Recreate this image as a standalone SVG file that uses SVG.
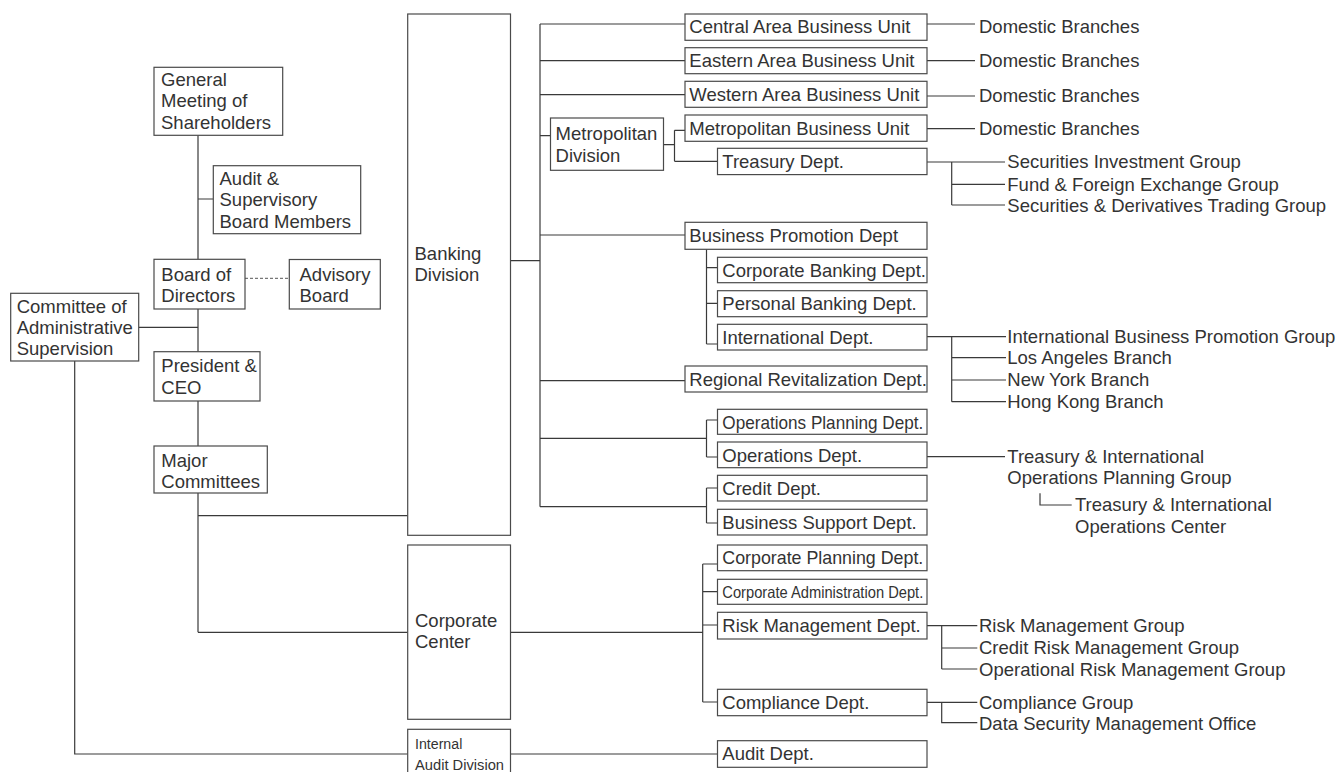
<svg xmlns="http://www.w3.org/2000/svg" width="1340" height="772" viewBox="0 0 1340 772">
<style>
.box{fill:#fff;stroke:#4a4a4a;stroke-width:1.2}
.t{font-family:"Liberation Sans",Arial,Helvetica,sans-serif;font-size:18.5px;fill:#333}
.s{font-size:15.5px}
.ln{fill:none;stroke:#3a3a3a;stroke-width:1.2}
.dash{fill:none;stroke:#777;stroke-width:1.2;stroke-dasharray:3 2}
</style>
<rect width="1340" height="772" fill="#fff"/>
<g id="connectors">
<path class="ln" d="M198 135.3V259.3M198 309V351.7M198 401V446M198 493V632.3M198 199H213.3M138.7 327.3H198M198 515.7H407.7M198 632.3H407.7M74.7 361V754H407.7"/>
<path class="dash" d="M245 278.3H289.3"/>
<path class="ln" d="M510.5 260.7H540M540 24V506.7M540 24H685M540 60.7H685M540 94.7H685M540 135.7H550.5M540 235H685M540 380.7H685M540 438.3H706.5M540 506.7H706.5"/>
<path class="ln" d="M663.4 144.7H674.5M674.5 130.3V161.3M674.5 130.3H685M674.5 161.3H717.5"/>
<path class="ln" d="M706.5 249.3V344M706.5 267.7H717.5M706.5 303.3H717.5M706.5 344H717.5"/>
<path class="ln" d="M706.5 420V457M706.5 420H717.5M706.5 457H717.5M706.5 488V523M706.5 488H717.5M706.5 523H717.5"/>
<path class="ln" d="M510.5 632.3H702.7M702.7 564V702M702.7 564H717.5M702.7 591.7H717.5M702.7 625H717.5M702.7 702H717.5M510.5 754H717.5"/>
<path class="ln" d="M927 24H975M927 60.7H975M927 96H975M927 128.7H975"/>
<path class="ln" d="M927 162H1005M951.7 162V205M951.7 184.3H1005M951.7 205H1005"/>
<path class="ln" d="M927 336.7H1006M951.7 336.7V401.7M951.7 357.7H1006M951.7 380H1006M951.7 401.7H1006"/>
<path class="ln" d="M927 456.7H1005M1040 493.3V505H1071.7"/>
<path class="ln" d="M927 625.7H977.3M941.7 625.7V669M941.7 648H977.3M941.7 669H977.3M927 702.3H977.3M941.7 702.3V722.7H977.3"/>
</g>
<g id="general-meeting"><rect class="box" x="154" y="67.3" width="128.7" height="68"/><text class="t" x="161" y="86">General</text><text class="t" x="161" y="107.3">Meeting of</text><text class="t" x="161" y="128.6">Shareholders</text></g>
<g id="audit-supervisory"><rect class="box" x="213.3" y="165.7" width="147.4" height="68"/><text class="t" x="219.5" y="185">Audit &amp;</text><text class="t" x="219.5" y="206.3">Supervisory</text><text class="t" x="219.5" y="227.6">Board Members</text></g>
<g id="board"><rect class="box" x="154" y="259.3" width="91" height="49.7"/><text class="t" x="161.3" y="281">Board of</text><text class="t" x="161.3" y="302">Directors</text></g>
<g id="advisory"><rect class="box" x="289.3" y="259.5" width="91" height="49.5"/><text class="t" x="299.5" y="281">Advisory</text><text class="t" x="299.5" y="302">Board</text></g>
<g id="committee"><rect class="box" x="10.7" y="293.3" width="128" height="67.7"/><text class="t" x="16.7" y="312.5">Committee of</text><text class="t" x="16.7" y="333.5">Administrative</text><text class="t" x="16.7" y="354.5">Supervision</text></g>
<g id="president"><rect class="box" x="154" y="351.7" width="106" height="49.3"/><text class="t" x="161.3" y="372.3">President &amp;</text><text class="t" x="161.3" y="393.5">CEO</text></g>
<g id="major"><rect class="box" x="154" y="446" width="113.3" height="47"/><text class="t" x="161.3" y="467">Major</text><text class="t" x="161.3" y="488">Committees</text></g>
<g id="banking"><rect class="box" x="407.7" y="14" width="102.8" height="521.3"/><text class="t" x="414.5" y="259.5">Banking</text><text class="t" x="414.5" y="281">Division</text></g>
<g id="corporate-center"><rect class="box" x="407.7" y="545" width="102.8" height="174.3"/><text class="t" x="415" y="627">Corporate</text><text class="t" x="415" y="648">Center</text></g>
<g id="internal-audit"><rect class="box" x="407.7" y="729.3" width="102.8" height="60"/><text class="t s" x="415" y="749.3" textLength="47.3" lengthAdjust="spacingAndGlyphs">Internal</text><text class="t s" x="415" y="770" textLength="89" lengthAdjust="spacingAndGlyphs">Audit Division</text></g>
<g id="metro-div"><rect class="box" x="550.5" y="118" width="113" height="52.3"/><text class="t" x="555.6" y="140">Metropolitan</text><text class="t" x="555.6" y="161.5">Division</text></g>
<g id="central"><rect class="box" x="685" y="14" width="242" height="26.3"/><text class="t" x="689.3" y="33.3">Central Area Business Unit</text></g>
<g id="eastern"><rect class="box" x="685" y="47.7" width="242" height="26"/><text class="t" x="689.3" y="67.2">Eastern Area Business Unit</text></g>
<g id="western"><rect class="box" x="685" y="81.3" width="242" height="26"/><text class="t" x="689.3" y="100.8">Western Area Business Unit</text></g>
<g id="metro-bu"><rect class="box" x="685" y="115" width="242" height="26.3"/><text class="t" x="689.3" y="134.5">Metropolitan Business Unit</text></g>
<g id="treasury"><rect class="box" x="717.5" y="148.3" width="209.5" height="26.3"/><text class="t" x="722.3" y="167.8">Treasury Dept.</text></g>
<g id="business-promotion"><rect class="box" x="685" y="222.3" width="242" height="27"/><text class="t" x="689.3" y="242">Business Promotion Dept</text></g>
<g id="corporate-banking"><rect class="box" x="717.5" y="257.3" width="209.5" height="25.4"/><text class="t" x="722.3" y="276.6">Corporate Banking Dept.</text></g>
<g id="personal-banking"><rect class="box" x="717.5" y="290.7" width="209.5" height="26"/><text class="t" x="722.3" y="310.2">Personal Banking Dept.</text></g>
<g id="international"><rect class="box" x="717.5" y="324.3" width="209.5" height="25.7"/><text class="t" x="722.3" y="343.8">International Dept.</text></g>
<g id="regional"><rect class="box" x="685" y="366" width="242" height="26"/><text class="t" x="689.3" y="385.5">Regional Revitalization Dept.</text></g>
<g id="ops-planning"><rect class="box" x="717.5" y="409.3" width="209.5" height="25"/><text class="t" x="722.3" y="428.6" textLength="201" lengthAdjust="spacingAndGlyphs">Operations Planning Dept.</text></g>
<g id="operations"><rect class="box" x="717.5" y="442" width="209.5" height="25.7"/><text class="t" x="722.3" y="461.5">Operations Dept.</text></g>
<g id="credit"><rect class="box" x="717.5" y="475.3" width="209.5" height="25.7"/><text class="t" x="722.3" y="494.8">Credit Dept.</text></g>
<g id="business-support"><rect class="box" x="717.5" y="509.3" width="209.5" height="25.7"/><text class="t" x="722.3" y="528.8">Business Support Dept.</text></g>
<g id="corporate-planning"><rect class="box" x="717.5" y="545" width="209.5" height="25.7"/><text class="t" x="722.3" y="564.4" textLength="201" lengthAdjust="spacingAndGlyphs">Corporate Planning Dept.</text></g>
<g id="corporate-admin"><rect class="box" x="717.5" y="579.3" width="209.5" height="25"/><text class="t" x="722.3" y="598" style="font-size:16.5px" textLength="201" lengthAdjust="spacingAndGlyphs">Corporate Administration Dept.</text></g>
<g id="risk"><rect class="box" x="717.5" y="612.3" width="209.5" height="26.7"/><text class="t" x="722.3" y="631.8">Risk Management Dept.</text></g>
<g id="compliance"><rect class="box" x="717.5" y="689.3" width="209.5" height="26.4"/><text class="t" x="722.3" y="708.8">Compliance Dept.</text></g>
<g id="audit-dept"><rect class="box" x="717.5" y="740.7" width="209.5" height="26.6"/><text class="t" x="722.3" y="760.2">Audit Dept.</text></g>
<g id="domestic-1"><text class="t" x="979" y="32.7">Domestic Branches</text></g>
<g id="domestic-2"><text class="t" x="979" y="66.7">Domestic Branches</text></g>
<g id="domestic-3"><text class="t" x="979" y="102">Domestic Branches</text></g>
<g id="domestic-4"><text class="t" x="979" y="134.7">Domestic Branches</text></g>
<g id="sec-invest"><text class="t" x="1007.3" y="168.3">Securities Investment Group</text></g>
<g id="fund-fx"><text class="t" x="1007.3" y="190.7">Fund &amp; Foreign Exchange Group</text></g>
<g id="sec-deriv"><text class="t" x="1007.3" y="211.7">Securities &amp; Derivatives Trading Group</text></g>
<g id="ibpg"><text class="t" x="1007.3" y="342.7">International Business Promotion Group</text></g>
<g id="la"><text class="t" x="1007.3" y="364">Los Angeles Branch</text></g>
<g id="ny"><text class="t" x="1007.3" y="386.3">New York Branch</text></g>
<g id="hk"><text class="t" x="1007.3" y="408">Hong Kong Branch</text></g>
<g id="tiopg"><text class="t" x="1007.3" y="462.7">Treasury &amp; International</text><text class="t" x="1007.3" y="484">Operations Planning Group</text></g>
<g id="tioc"><text class="t" x="1075" y="511">Treasury &amp; International</text><text class="t" x="1075" y="532.5">Operations Center</text></g>
<g id="rmg"><text class="t" x="979" y="632">Risk Management Group</text></g>
<g id="crmg"><text class="t" x="979" y="654">Credit Risk Management Group</text></g>
<g id="ormg"><text class="t" x="979" y="675.7">Operational Risk Management Group</text></g>
<g id="cg"><text class="t" x="979" y="709">Compliance Group</text></g>
<g id="dsmo"><text class="t" x="979" y="729.5">Data Security Management Office</text></g>
</svg>
